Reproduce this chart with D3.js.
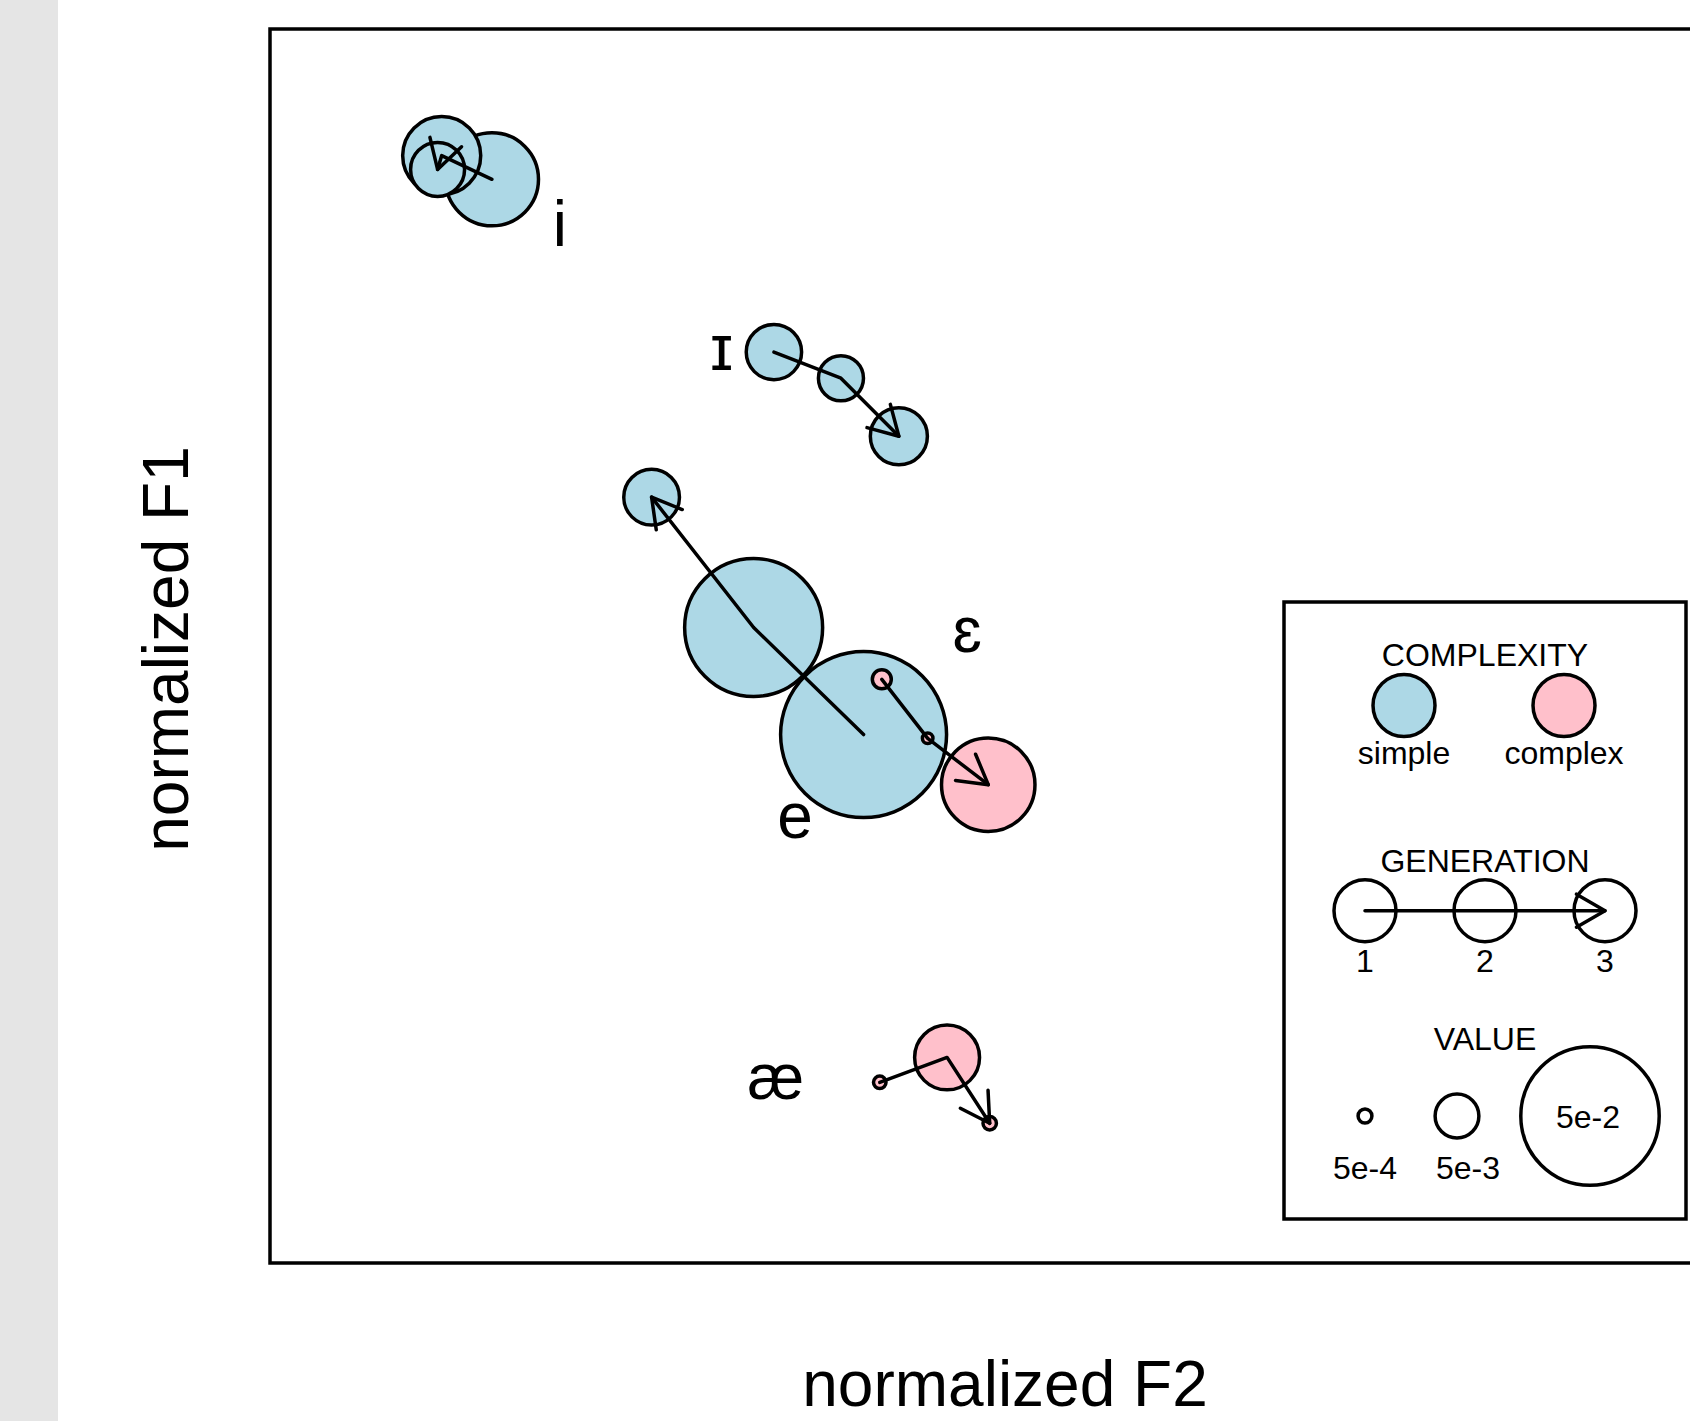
<!DOCTYPE html>
<html>
<head>
<meta charset="utf-8">
<script src="https://cdn.jsdelivr.net/npm/d3@7"></script>
<style>
  body { margin: 0; background: #fff; }
  svg text { font-family: "Liberation Sans", Arial, Helvetica, sans-serif; fill: #000; }
</style>
</head>
<body>
<svg id="chart" width="1690" height="1421"></svg>
<script>
// vowels, one row per vowel, columns = generation 1..3
var vowels = ["i", "ɪ", "e", "ɛ", "æ"];
var complexity = ["simple", "simple", "simple", "complex", "complex"];
var f2 = [
  [1.745, 1.916, 1.930],
  [0.786, 0.558, 0.361],
  [0.481, 0.855, 1.202],
  [0.419, 0.263, 0.057],
  [0.426, 0.197, 0.052]
];
var f1 = [
  [-1.891, -1.987, -1.931],
  [-1.191, -1.085, -0.850],
  [0.359, -0.075, -0.603],
  [0.135, 0.374, 0.562],
  [1.768, 1.667, 1.934]
];
var values = [
  [0.0226, 0.0159, 0.0076],
  [0.0080, 0.0053, 0.0085],
  [0.0719, 0.0497, 0.0081],
  [0.00094, 0.00029, 0.0228],
  [0.00041, 0.0110, 0.00047]
];
var labelF2 = [1.514, 0.964, 0.714, 0.129, 0.780];
var labelF1 = [-1.688, -1.186, 0.711, -0.044, 1.768];

var generations = [1, 2, 3];
var complexityLevels = ["simple", "complex"];
var legendValues = [5e-4, 5e-3, 5e-2];
var legendValueLabels = ["5e-4", "5e-3", "5e-2"];

var lw = 3.5;
var svg = d3.select("#chart");

var x = d3.scaleLinear().domain([2.5, -2.5]).range([270, 1740]);
var y = d3.scaleLinear().domain([-2.5, 2.5]).range([29, 1263]);
var r = d3.scaleSqrt().domain([0, 0.05]).range([0, 69.2]);
var color = d3.scaleOrdinal().domain(complexityLevels).range(["#add8e6", "#ffc0cb"]);

// grey strip on the left
svg.append("rect").attr("x", 0).attr("y", 0).attr("width", 58).attr("height", 1421).attr("fill", "#e5e5e5");

// plot frame
svg.append("rect")
  .attr("x", x.range()[0]).attr("y", y.range()[0])
  .attr("width", x.range()[1] - x.range()[0])
  .attr("height", y.range()[1] - y.range()[0])
  .attr("fill", "none").attr("stroke", "#000").attr("stroke-width", lw);

var points = [];
vowels.forEach(function(v, i) {
  generations.forEach(function(g, j) {
    points.push({ vowel: v, gen: g, cx: x(f2[i][j]), cy: y(f1[i][j]), r: r(values[i][j]), fill: color(complexity[i]) });
  });
});

svg.append("g").selectAll("circle")
  .data(points)
  .enter()
  .append("circle")
    .attr("cx", d => d.cx)
    .attr("cy", d => d.cy)
    .attr("r", d => d.r)
    .attr("fill", d => d.fill)
    .attr("stroke", "#000")
    .attr("stroke-width", lw);

function arrowHead(x0, y0, x1, y1, len, ang) {
  var a = Math.atan2(y1 - y0, x1 - x0);
  return [
    [x1 - len * Math.cos(a - ang), y1 - len * Math.sin(a - ang)],
    [x1, y1],
    [x1 - len * Math.cos(a + ang), y1 - len * Math.sin(a + ang)]
  ];
}

var line = d3.line();
var arrows = svg.append("g")
  .attr("fill", "none").attr("stroke", "#000").attr("stroke-width", lw)
  .attr("stroke-linecap", "round").attr("stroke-linejoin", "round");

vowels.forEach(function(v, i) {
  var pts = generations.map((g, j) => [x(f2[i][j]), y(f1[i][j])]);
  arrows.append("path").attr("d", line(pts));
  var n = pts.length;
  arrows.append("path").attr("d", line(arrowHead(pts[n - 2][0], pts[n - 2][1], pts[n - 1][0], pts[n - 1][1], 33, Math.PI / 6)));
});

// vowel labels
svg.append("g").selectAll("text")
  .data(vowels)
  .enter()
  .append("text")
    .attr("x", (d, i) => x(labelF2[i]))
    .attr("y", (d, i) => y(labelF1[i]))
    .attr("dy", "0.26em")
    .attr("text-anchor", "middle")
    .style("font-size", "64px")
    .text(d => d);

// axis titles
svg.append("text")
  .attr("x", 1005).attr("y", 1406)
  .attr("text-anchor", "middle")
  .style("font-size", "64px")
  .text("normalized F2");

svg.append("text")
  .attr("transform", "translate(188,649) rotate(-90)")
  .attr("text-anchor", "middle")
  .style("font-size", "64px")
  .text("normalized F1");

// legend
var lg = svg.append("g");
lg.append("rect")
  .attr("x", 1284).attr("y", 602).attr("width", 402).attr("height", 617)
  .attr("fill", "#fff").attr("stroke", "#000").attr("stroke-width", lw);

function legendText(tx, ty, s) {
  lg.append("text").attr("x", tx).attr("y", ty).attr("text-anchor", "middle")
    .style("font-size", "32px").text(s);
}

legendText(1485, 666, "COMPLEXITY");
var cxs = [1404, 1564];
complexityLevels.forEach(function(c, i) {
  lg.append("circle").attr("cx", cxs[i]).attr("cy", 705.5).attr("r", 31)
    .attr("fill", color(c)).attr("stroke", "#000").attr("stroke-width", lw);
  legendText(cxs[i], 764, c);
});

legendText(1485, 872, "GENERATION");
var gxs = [1365, 1485, 1605];
generations.forEach(function(g, i) {
  lg.append("circle").attr("cx", gxs[i]).attr("cy", 910.7).attr("r", 31)
    .attr("fill", "none").attr("stroke", "#000").attr("stroke-width", lw);
  legendText(gxs[i], 972, g);
});
lg.append("path").attr("d", line([[gxs[0], 910.7], [gxs[2], 910.7]]))
  .attr("fill", "none").attr("stroke", "#000").attr("stroke-width", lw).attr("stroke-linecap", "round");
lg.append("path").attr("d", line(arrowHead(gxs[0], 910.7, gxs[2], 910.7, 33, Math.PI / 6)))
  .attr("fill", "none").attr("stroke", "#000").attr("stroke-width", lw)
  .attr("stroke-linecap", "round").attr("stroke-linejoin", "round");

legendText(1485, 1050, "VALUE");
var vxs = [1365, 1457, 1590];
var vlx = [1365, 1468, 1588];
var vly = [1178.5, 1178.5, 1127.5];
legendValues.forEach(function(v, i) {
  lg.append("circle").attr("cx", vxs[i]).attr("cy", 1116).attr("r", r(v))
    .attr("fill", "none").attr("stroke", "#000").attr("stroke-width", lw);
  legendText(vlx[i], vly[i], legendValueLabels[i]);
});
</script>
</body>
</html>
